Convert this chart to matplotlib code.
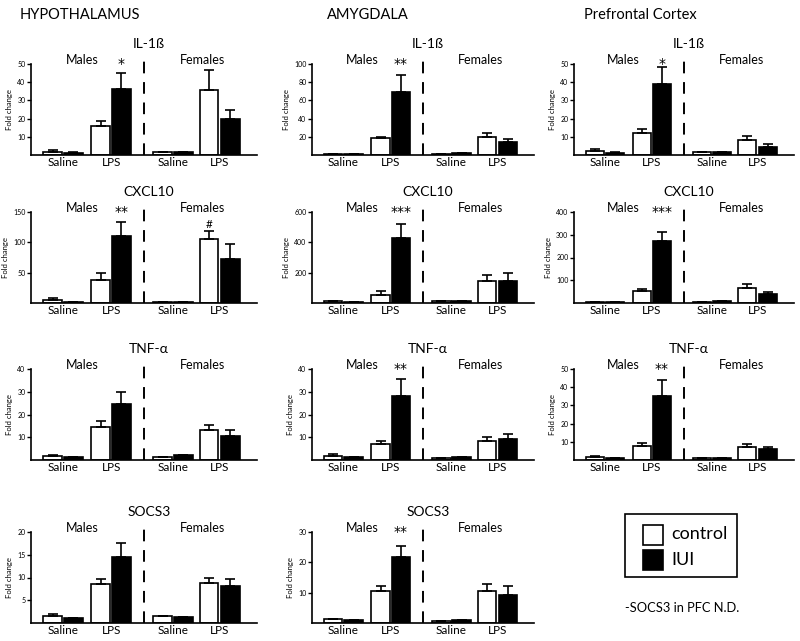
import numpy as np
import matplotlib
matplotlib.use('Agg')
import matplotlib.pyplot as plt
from matplotlib.patches import Rectangle

plt.rcParams['font.family'] = ['Lato', 'DejaVu Sans']

# bar order in every panel:
# male saline ctrl, male saline IUI, male LPS ctrl, male LPS IUI,
# female saline ctrl, female saline IUI, female LPS ctrl, female LPS IUI
regions = ['HYPOTHALAMUS', 'AMYGDALA', 'Prefrontal Cortex']
genes = ['IL-1ß', 'CXCL10', 'TNF-α', 'SOCS3']
treat_labels = ['Saline', 'LPS', 'Saline', 'LPS']
sex_labels = ['Males', 'Females']

hyp_il1b = [1.8, 1.1, 16.1, 36.3, 1.5, 1.8, 35.9, 19.8]
hyp_il1b_sem = [0.9, 0.5, 2.4, 8.7, 0, 0, 10.8, 5.1]
amy_il1b = [1.5, 1.5, 18.3, 69.6, 1.0, 2.0, 19.4, 14.7]
amy_il1b_sem = [0, 0, 1.8, 18.3, 0, 0, 4.4, 2.9]
pfc_il1b = [2.2, 1.3, 11.9, 39.1, 1.5, 1.8, 8.2, 4.6]
pfc_il1b_sem = [0.9, 0.5, 2.2, 9.3, 0, 0, 2.2, 1.2]

hyp_cxcl10 = [5.5, 1.5, 37.6, 110.7, 2, 2, 105.7, 72]
hyp_cxcl10_sem = [2.8, 0, 12.2, 23.3, 0, 0, 12.7, 24.8]
amy_cxcl10 = [11, 7, 55, 431, 10, 10, 142, 142]
amy_cxcl10_sem = [0, 0, 23, 89, 0, 0, 40, 58]
pfc_cxcl10 = [6, 4, 52, 273, 6, 7, 65, 39]
pfc_cxcl10_sem = [0, 0, 9, 40, 0, 0, 17, 11]

hyp_tnf = [1.6, 1.3, 14.7, 24.5, 1.4, 2.3, 13.0, 10.4]
hyp_tnf_sem = [0.7, 0, 2.3, 5.4, 0, 0, 2.2, 2.7]
amy_tnf = [1.8, 1.5, 7.0, 28.0, 1.0, 1.2, 8.5, 9.3]
amy_tnf_sem = [0.7, 0, 1.5, 7.5, 0, 0, 1.5, 2.0]
pfc_tnf = [1.5, 1.1, 7.7, 34.9, 0.9, 1.1, 7.2, 5.9]
pfc_tnf_sem = [0.9, 0, 1.9, 9.2, 0, 0, 1.5, 1.3]

hyp_socs3 = [1.6, 1.0, 8.6, 14.6, 1.6, 1.3, 8.9, 8.2]
hyp_socs3_sem = [0.4, 0, 1.1, 2.9, 0, 0, 1.1, 1.4]
amy_socs3 = [1.4, 1.0, 10.4, 21.7, 0.8, 0.9, 10.5, 9.3]
amy_socs3_sem = [0, 0, 1.9, 3.6, 0, 0, 2.3, 2.9]

# y axis top and tick step per panel
hyp_ylim = [50, 150, 40, 20]
hyp_ystep = [10, 50, 10, 5]
amy_ylim = [100, 600, 40, 30]
amy_ystep = [20, 200, 10, 10]
pfc_ylim = [50, 400, 50]
pfc_ystep = [10, 100, 10]

# significance marks: (bar index, text)
hyp_sig = [[(3, '*')], [(3, '**'), (6, '#')], [], []]
amy_sig = [[(3, '**')], [(3, '***')], [(3, '**')], [(3, '**')]]
pfc_sig = [[(3, '*')], [(3, '***')], [(3, '**')]]

panels = [
    [(hyp_il1b, hyp_il1b_sem), (hyp_cxcl10, hyp_cxcl10_sem), (hyp_tnf, hyp_tnf_sem), (hyp_socs3, hyp_socs3_sem)],
    [(amy_il1b, amy_il1b_sem), (amy_cxcl10, amy_cxcl10_sem), (amy_tnf, amy_tnf_sem), (amy_socs3, amy_socs3_sem)],
    [(pfc_il1b, pfc_il1b_sem), (pfc_cxcl10, pfc_cxcl10_sem), (pfc_tnf, pfc_tnf_sem)],
]
ylims = [hyp_ylim, amy_ylim, pfc_ylim]
ysteps = [hyp_ystep, amy_ystep, pfc_ystep]
sigs = [hyp_sig, amy_sig, pfc_sig]

# layout in pixels
W, H = 800, 641
col_left = [31, 312, 574]
col_width = [226, 222, 220]
col_title_x = [80, 368, 640]
row_top = [64, 212, 369, 532]
ax_h = 91
xpos = np.array([22, 43, 71, 92, 134, 155, 181, 203])
bar_w = 19
divider_x = 115
group_x = [(xpos[0] + xpos[1]) / 2, (xpos[2] + xpos[3]) / 2,
           (xpos[4] + xpos[5]) / 2, (xpos[6] + xpos[7]) / 2]
colors = ['white', 'black'] * 4

fig = plt.figure(figsize=(W / 100, H / 100), dpi=100)

for c, region in enumerate(regions):
    fig.text(col_title_x[c] / W, 1 - 15 / H, region, fontsize=10.5,
             ha='center', va='center')
    for r, (vals, sem) in enumerate(panels[c]):
        ax = fig.add_axes([col_left[c] / W, 1 - (row_top[r] + ax_h) / H,
                           col_width[c] / W, ax_h / H])
        ax.bar(xpos, vals, width=bar_w, color=colors, edgecolor='black',
               linewidth=1.2, zorder=2)
        ax.errorbar(xpos, vals, yerr=[np.zeros(len(vals)), sem], fmt='none',
                    ecolor='black', elinewidth=1.2, capsize=3.5, capthick=1.2,
                    zorder=3)
        top = ylims[c][r]
        ax.set_xlim(0, 230)
        ax.set_ylim(0, top)
        ax.set_yticks(np.arange(ysteps[c][r], top + 0.01, ysteps[c][r]))
        ax.tick_params(axis='y', labelsize=5, length=3, width=1, pad=1)
        ax.set_xticks([])
        ax.spines['top'].set_visible(False)
        ax.spines['right'].set_visible(False)
        ax.spines['left'].set_linewidth(1.2)
        ax.spines['bottom'].set_linewidth(1.2)
        ax.set_ylabel('Fold change', fontsize=5.5, labelpad=3)

        ax.plot([divider_x, divider_x], [0, 1.05], transform=ax.get_xaxis_transform(),
                color='black', lw=1.4, dashes=(6, 4.5), clip_on=False)

        for gx, lab in zip(group_x, treat_labels):
            ax.text(gx, -0.02, lab, transform=ax.get_xaxis_transform(),
                    ha='center', va='top', fontsize=8.5)
        ax.text(52, 1.04, sex_labels[0], transform=ax.get_xaxis_transform(),
                ha='center', va='center', fontsize=9)
        ax.text(175, 1.04, sex_labels[1], transform=ax.get_xaxis_transform(),
                ha='center', va='center', fontsize=9)
        ax.text(divider_x + 5, 1.22, genes[r], transform=ax.get_xaxis_transform(),
                ha='center', va='center', fontsize=10)

        for idx, mark in sigs[c][r]:
            if mark == '#':
                ax.text(xpos[idx], vals[idx] + sem[idx] + top * 0.01, mark,
                        ha='center', va='bottom', fontsize=8.5)
            else:
                ax.text(xpos[idx], 1.0, mark, transform=ax.get_xaxis_transform(),
                        ha='center', va='center', fontsize=10,
                        family='DejaVu Sans')

# legend box
fig.patches.append(Rectangle((625 / W, 1 - 577 / H), 112 / W, 63 / H,
                             transform=fig.transFigure, fill=False,
                             edgecolor='black', linewidth=1.2))
fig.patches.append(Rectangle((643 / W, 1 - 545 / H), 20 / W, 20 / H,
                             transform=fig.transFigure, facecolor='white',
                             edgecolor='black', linewidth=1.2))
fig.patches.append(Rectangle((643 / W, 1 - 570 / H), 20 / W, 20 / H,
                             transform=fig.transFigure, facecolor='black',
                             edgecolor='black', linewidth=1.2))
fig.text(671 / W, 1 - 534 / H, 'control', fontsize=13, va='center', ha='left')
fig.text(671 / W, 1 - 560 / H, 'IUI', fontsize=13, va='center', ha='left')
fig.text(625 / W, 1 - 608 / H, '-SOCS3 in PFC N.D.', fontsize=9.3,
         va='center', ha='left')

fig.savefig('out.png', dpi=100)
